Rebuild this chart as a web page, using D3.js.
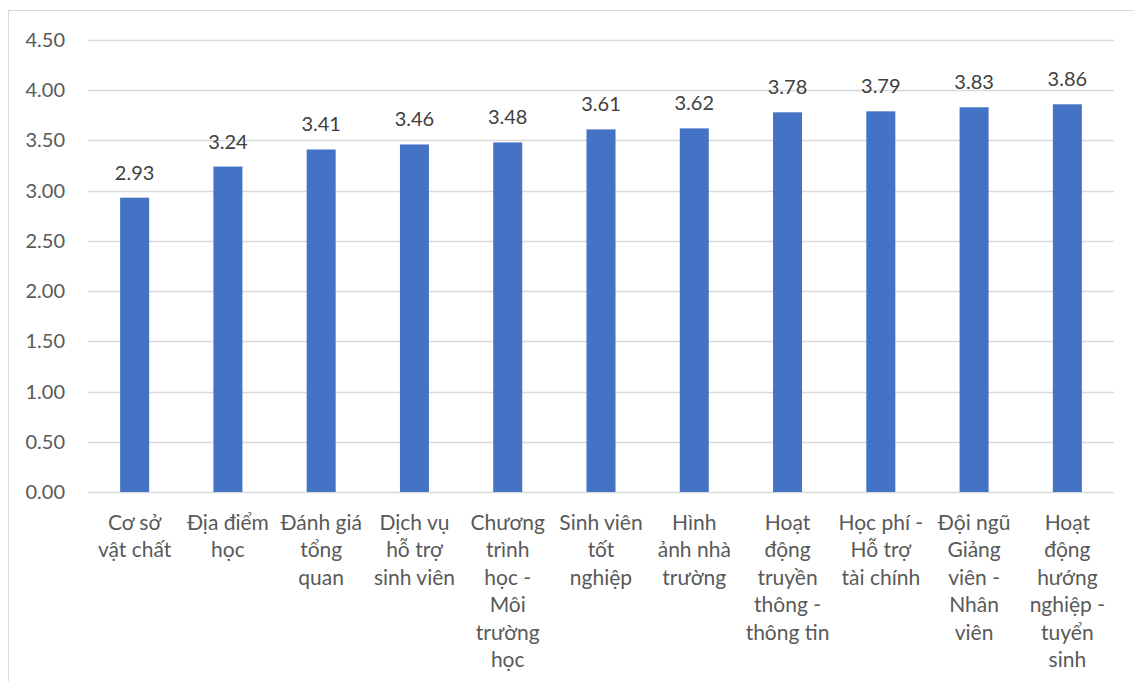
<!DOCTYPE html>
<html>
<head>
<meta charset="utf-8">
<script src="https://cdn.jsdelivr.net/npm/d3@7"></script>
<style>
  body { margin: 0; background: #fff; }
  text { font-family: Lato, "Open Sans", sans-serif; }
</style>
</head>
<body>
<script>
// categories (line breaks as in the original chart)
var categories = [
  "Cơ sở\nvật chất",
  "Địa điểm\nhọc",
  "Đánh giá\ntổng\nquan",
  "Dịch vụ\nhỗ trợ\nsinh viên",
  "Chương\ntrình\nhọc -\nMôi\ntrường\nhọc",
  "Sinh viên\ntốt\nnghiệp",
  "Hình\nảnh nhà\ntrường",
  "Hoạt\nđộng\ntruyền\nthông -\nthông tin",
  "Học phí -\nHỗ trợ\ntài chính",
  "Đội ngũ\nGiảng\nviên -\nNhân\nviên",
  "Hoạt\nđộng\nhướng\nnghiệp -\ntuyển\nsinh"
]
var values = [2.93, 3.24, 3.41, 3.46, 3.48, 3.61, 3.62, 3.78, 3.79, 3.83, 3.86]
var yTicks = [0, 0.5, 1, 1.5, 2, 2.5, 3, 3.5, 4, 4.5]

var svg = d3.select('body').append('svg')
  .attr('width', 1134)
  .attr('height', 681)

// chart border
svg.append('rect')
  .attr('x', 8.5)
  .attr('y', 10.5)
  .attr('width', 1140)
  .attr('height', 700)
  .attr('fill', '#fff')
  .attr('stroke', '#d9d9d9')

var plotLeft = 88, plotRight = 1114, plotTop = 40, plotBottom = 492

var x = d3.scaleBand()
  .domain(d3.range(categories.length))
  .range([plotLeft, plotRight])
  .padding(0)

var y = d3.scaleLinear()
  .domain([0, 4.5])
  .range([plotBottom, plotTop])

// gridlines
svg.append('g')
  .selectAll('line')
  .data(yTicks)
  .enter().append('line')
  .attr('x1', plotLeft)
  .attr('x2', plotRight)
  .attr('y1', function(d){ return Math.round(y(d)) + 0.5 })
  .attr('y2', function(d){ return Math.round(y(d)) + 0.5 })
  .attr('stroke', '#d9d9d9')
  .attr('stroke-width', 1.3)

// y labels
svg.append('g')
  .selectAll('text')
  .data(yTicks)
  .enter().append('text')
  .attr('x', 65)
  .attr('y', function(d){ return y(d) })
  .attr('dy', '0.35em')
  .attr('text-anchor', 'end')
  .attr('font-size', 20)
  .attr('fill', '#595959')
  .text(function(d){ return d3.format('.2f')(d) })

var barW = 29

svg.append('g')
  .selectAll('rect')
  .data(values)
  .enter().append('rect')
  .attr('x', function(d, i){ return x(i) + x.bandwidth() / 2 - barW / 2 })
  .attr('y', function(d){ return y(d) })
  .attr('width', barW)
  .attr('height', function(d){ return y(0) - y(d) })
  .attr('fill', '#4472C4')

// value labels
svg.append('g')
  .selectAll('text')
  .data(values)
  .enter().append('text')
  .attr('x', function(d, i){ return x(i) + x.bandwidth() / 2 })
  .attr('y', function(d){ return y(d) - 18 })
  .attr('text-anchor', 'middle')
  .attr('font-size', 20)
  .attr('fill', '#404040')
  .text(function(d){ return d3.format('.2f')(d) })

// category labels
var cat = svg.append('g')
  .selectAll('text')
  .data(categories)
  .enter().append('text')
  .attr('text-anchor', 'middle')
  .attr('font-size', 21)
  .attr('fill', '#595959')

cat.each(function(d, i){
  var t = d3.select(this)
  d.split('\n').forEach(function(line, j){
    t.append('tspan')
      .attr('x', x(i) + x.bandwidth() / 2)
      .attr('y', 530 + j * 27.4)
      .text(line)
  })
})
</script>
</body>
</html>
